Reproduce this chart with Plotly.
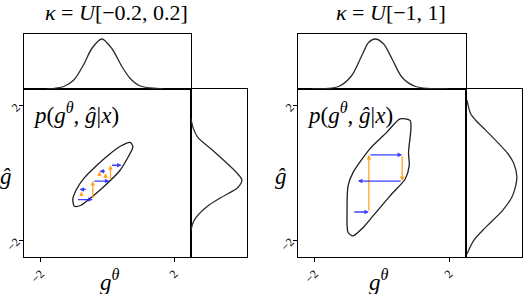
import plotly.graph_objects as go

W, H = 524, 294

# ---------------- data ----------------
titles = ["<i>κ</i>&nbsp;=&nbsp;<i>U</i>[−0.2,&nbsp;0.2]", "<i>κ</i>&nbsp;=&nbsp;<i>U</i>[−1,&nbsp;1]"]
tick_vals = [-2, 2]
tick_text = ["−2", "2"]

# top marginal densities of g^theta (normalised to peak = 1)
top_x_left = [-1.81, -1.31, -1.01, -0.72, -0.47, -0.17, 0.13, 0.43, 0.68, 0.98, 1.47, 1.67]
top_h_left = [0.0, 0.05, 0.18, 0.48, 0.81, 1.0, 0.81, 0.45, 0.21, 0.06, 0.01, 0.0]
top_x_right = [-2.09, -1.29, -0.90, -0.60, -0.40, -0.20, 0.05, 0.30, 0.60, 1.00, 1.94]
top_h_right = [0.0, 0.05, 0.27, 0.67, 0.93, 1.0, 0.90, 0.60, 0.23, 0.05, 0.0]

# right marginal densities of g_hat
side_y_left = [1.62, 1.35, 1.07, 0.67, 0.27, -0.03, -0.21, -0.43, -0.73, -0.98, -1.32, -1.52, -1.72]
side_h_left = [0.0, 0.04, 0.13, 0.43, 0.72, 0.92, 1.0, 0.92, 0.59, 0.33, 0.10, 0.03, 0.0]
side_y_right = [2.17, 1.77, 1.57, 1.27, 0.58, 0.28, -0.12, -0.42, -0.72, -1.11, -1.61, -2.01, -2.41]
side_h_right = [0.02, 0.09, 0.19, 0.39, 0.82, 0.94, 1.0, 0.97, 0.90, 0.72, 0.39, 0.15, 0.02]

# joint density contour outlines
cont_x_left = [0.68, 0.41, 0.06, -0.34, -0.69, -0.93, -1.04, -0.99, -0.79, -0.44, -0.04, 0.36, 0.61, 0.76, 0.68]
cont_y_left = [0.91, 0.81, 0.56, 0.21, -0.14, -0.49, -0.79, -0.99, -0.96, -0.69, -0.34, 0.06, 0.46, 0.78, 0.91]
cont_x_right = [0.54, 0.84, 0.86, 0.79, 0.81, 0.69, 0.24, -0.26, -0.56, -0.86, -1.01, -1.04, -1.01, -0.86, -0.36, 0.14, 0.54]
cont_y_right = [1.61, 1.56, 1.31, 0.62, 0.22, -0.18, -0.68, -1.27, -1.62, -1.87, -1.77, -1.07, -0.38, 0.02, 0.72, 1.21, 1.61]

# update arrows: tail (x0, y0) -> head (x1, y1)
arr_x0_left = [-0.93, -0.44, -0.44, 0.09, 0.09, -0.03, -0.24, -0.06, -0.60, -0.78]
arr_y0_left = [-0.79, -0.79, -0.24, -0.24, 0.23, 0.05, -0.13, -0.19, -0.49, -0.73]
arr_x1_left = [-0.44, -0.44, 0.06, 0.09, 0.42, -0.24, -0.24, -0.06, -0.84, -0.78]
arr_y1_left = [-0.79, -0.24, -0.24, 0.23, 0.23, 0.05, 0.05, -0.01, -0.49, -0.55]

arr_x0_right = [-0.87, -0.39, -0.39, 0.60, 0.60]
arr_y0_right = [-1.16, -1.16, 0.54, 0.54, -0.24]
arr_x1_right = [-0.39, -0.39, 0.60, 0.60, -0.72]
arr_y1_right = [-1.16, 0.54, 0.54, -0.24, -0.24]

# ---------------- layout geometry (pixels) ----------------
panels = [
    dict(main_x=(24, 191), side_x=(191, 247), title_cx=116.5, glab_x=110, ylab_x=6),
    dict(main_x=(298, 466), side_x=(466, 522), title_cx=391, glab_x=379, ylab_x=281),
]
main_y = (89, 257)
top_y = (34, 89)

def fx(p):
    return p / W

def fy(p):
    return 1 - p / H

LINE = "#2b2b2b"
SERIF = "Liberation Serif, DejaVu Serif, serif"
fig = go.Figure()

datasets = [
    (top_x_left, top_h_left, side_y_left, side_h_left, cont_x_left, cont_y_left,
     arr_x0_left, arr_y0_left, arr_x1_left, arr_y1_left),
    (top_x_right, top_h_right, side_y_right, side_h_right, cont_x_right, cont_y_right,
     arr_x0_right, arr_y0_right, arr_x1_right, arr_y1_right),
]

layout = dict(
    width=W, height=H, margin=dict(l=0, r=0, t=0, b=0),
    paper_bgcolor="white", plot_bgcolor="white", showlegend=False,
    font=dict(family=SERIF, color="black"),
)
annotations = []
R = [-2.5, 2.5]

for i, (p, d) in enumerate(zip(panels, datasets)):
    tx, th, sy, sh, cx, cy, ax0, ay0, ax1, ay1 = d
    n = i * 3
    am, at, ar = n + 1, n + 2, n + 3
    def nm(k):
        return "" if k == 1 else str(k)
    xm, ym = "x" + nm(am), "y" + nm(am)
    xt, yt = "x" + nm(at), "y" + nm(at)
    xr, yr = "x" + nm(ar), "y" + nm(ar)

    fig.add_trace(go.Scatter(x=cx, y=cy, mode="lines", line=dict(color="#1e1e1e", width=1.3, shape="spline", smoothing=0.7),
                             xaxis=xm, yaxis=ym, hoverinfo="skip"))
    fig.add_trace(go.Scatter(x=tx, y=th, mode="lines", line=dict(color=LINE, width=1.3, shape="spline", smoothing=0.8),
                             xaxis=xt, yaxis=yt, hoverinfo="skip"))
    fig.add_trace(go.Scatter(x=sh, y=sy, mode="lines", line=dict(color=LINE, width=1.3, shape="spline", smoothing=0.8),
                             xaxis=xr, yaxis=yr, hoverinfo="skip"))

    mx0, mx1 = p["main_x"]
    sx0, sx1 = p["side_x"]
    axis_common = dict(showgrid=False, zeroline=False, showline=True, linecolor="black", linewidth=1.2, mirror=True)
    layout["xaxis" + nm(am)] = dict(axis_common, domain=[fx(mx0), fx(mx1)], range=R, anchor=ym,
                                   tickvals=tick_vals, ticktext=tick_text, ticks="outside", ticklen=4,
                                   tickcolor="black", tickangle=-45, tickfont=dict(size=12, family=SERIF))
    layout["yaxis" + nm(am)] = dict(axis_common, domain=[fy(main_y[1]), fy(main_y[0])], range=R, anchor=xm,
                                   tickvals=tick_vals, ticktext=tick_text, ticks="outside", ticklen=4,
                                   tickcolor="black", tickangle=-45, tickfont=dict(size=12, family=SERIF))
    layout["xaxis" + nm(at)] = dict(axis_common, domain=[fx(mx0), fx(mx1)], range=R, anchor=yt,
                                   showticklabels=False, ticks="")
    layout["yaxis" + nm(at)] = dict(axis_common, domain=[fy(top_y[1]), fy(top_y[0])], range=[0, 1.1], anchor=xt,
                                   showticklabels=False, ticks="")
    layout["xaxis" + nm(ar)] = dict(axis_common, domain=[fx(sx0), fx(sx1)], range=[0, 1.1], anchor=yr,
                                   showticklabels=False, ticks="")
    layout["yaxis" + nm(ar)] = dict(axis_common, domain=[fy(main_y[1]), fy(main_y[0])], range=R, anchor=xr,
                                   showticklabels=False, ticks="")

    for k in range(len(ax0)):
        horiz = ay0[k] == ay1[k]
        col = "rgba(30,30,255,0.85)" if horiz else "rgba(255,160,20,0.95)"
        annotations.append(dict(x=ax1[k], y=ay1[k], ax=ax0[k], ay=ay0[k], xref=xm, yref=ym,
                                axref=xm, ayref=ym, showarrow=True, arrowhead=2, arrowsize=0.7,
                                arrowwidth=1.3, arrowcolor=col, text=""))

    annotations.append(dict(x=fx(p["title_cx"]), y=fy(12), xref="paper", yref="paper", text=titles[i],
                            showarrow=False, font=dict(size=22, family=SERIF), xanchor="center", yanchor="middle"))
    annotations.append(dict(x=fx(mx0 + 7), y=fy(113), xref="paper", yref="paper",
                            text="<i>p</i>(<i>g</i><sup><i>θ</i></sup>,&nbsp;<i>ĝ</i>|<i>x</i>)",
                            showarrow=False, font=dict(size=23, family=SERIF), xanchor="left", yanchor="middle"))
    annotations.append(dict(x=fx(p["glab_x"]), y=fy(280), xref="paper", yref="paper",
                            text="<i>g</i><sup><i>θ</i></sup>", showarrow=False,
                            font=dict(size=23, family=SERIF), xanchor="center", yanchor="middle"))
    annotations.append(dict(x=fx(p["ylab_x"]), y=fy(176), xref="paper", yref="paper",
                            text="<i>ĝ</i>", showarrow=False,
                            font=dict(size=23, family=SERIF), xanchor="center", yanchor="middle"))

layout["annotations"] = annotations
fig.update_layout(**layout)
fig.write_html("out.html", config={"displayModeBar": False},
               post_script="document.body.style.margin='0';document.body.style.overflow='hidden';")
